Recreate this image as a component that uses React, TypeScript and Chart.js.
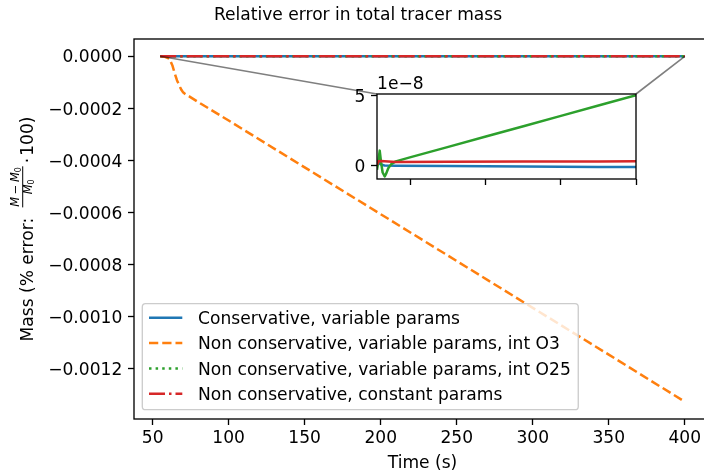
import React, { useEffect, useRef } from "react";
import { Chart, registerables } from "chart.js";

Chart.register(...registerables);

const FONT_FAMILY = '"DejaVu Sans", "Liberation Sans", sans-serif';
const FS = 17.1;

// ---------------- text ----------------
const TITLE = "Relative error in total tracer mass";
const X_LABEL = "Time (s)";
const Y_LABEL_START = "Mass (% error: ";
const Y_LABEL_END = "100)";
const SERIES_LABELS = [
  "Conservative, variable params",
  "Non conservative, variable params, int O3",
  "Non conservative, variable params, int O25",
  "Non conservative, constant params",
];
const COLORS = ["#1f77b4", "#ff7f0e", "#2ca02c", "#d62728"];
const DASHES: number[][] = [[], [9.25, 4], [2.5, 4.1], [16, 4, 2.5, 4]];

// ---------------- data ----------------
const timeBlue = [55, 57, 60, 65, 80, 150, 250, 350, 400];
const massBlue = [0.15e-8, 0.2e-8, 0.08e-8, 0.0, -0.02e-8, -0.04e-8, -0.07e-8, -0.1e-8, -0.11e-8];

const timeOrange = [55, 58, 61, 63, 64.5, 66, 68, 69, 70, 71, 72.5, 74.3, 80, 100, 150, 200, 250, 300, 350, 400];
const massOrange = [
  0, -0.000002, -0.000009, -0.000035, -0.000065, -0.000092, -0.000118, -0.00013, -0.000138, -0.000143,
  -0.000149, -0.000155, -0.000176, -0.000247, -0.000427, -0.000607, -0.000787, -0.000967, -0.001147, -0.001328,
];

const timeGreen = [55, 56.5, 58.6, 60.5, 62.5, 65.3, 67.5, 70, 74, 80, 100, 150, 200, 250, 300, 350, 400];
const massGreen = [
  -0.3e-8, 0.2e-8, 1.07e-8, 0.2e-8, -0.5e-8, -0.79e-8, -0.55e-8, -0.2e-8, 0.1e-8, 0.3e-8, 0.6e-8, 1.34e-8,
  2.08e-8, 2.82e-8, 3.57e-8, 4.31e-8, 5.05e-8,
];

const timeRed = [55, 57, 60, 80, 150, 250, 350, 400];
const massRed = [0.05e-8, 0.3e-8, 0.32e-8, 0.26e-8, 0.27e-8, 0.28e-8, 0.29e-8, 0.3e-8];

const xTickValues = [50, 100, 150, 200, 250, 300, 350, 400];
const yTickValues = [0, -0.0002, -0.0004, -0.0006, -0.0008, -0.001, -0.0012];
const insetXTickValues = [100, 200, 300, 400];
const insetYTickValues = [0, 5e-8];
const insetXRange = [55, 400];
const insetYRange = [-0.97e-8, 5.14e-8];
const INSET_OFFSET_TEXT = "1e\u22128";

// ---------------- layout ----------------
const MAIN_W = 720;
const MAIN_H = 476;
const INSET_LEFT = 340;
const INSET_TOP = 70;
const INSET_W = 320;
const INSET_H = 130;

const pts = (t: number[], v: number[]) => t.map((x, i) => ({ x, y: v[i] }));
const minus = (s: string) => s.replace("-", "\u2212");

const allTimes = [...timeBlue, ...timeOrange, ...timeGreen, ...timeRed];
const allMass = [...massBlue, ...massOrange, ...massGreen, ...massRed];
const tMin = Math.min(...allTimes);
const tMax = Math.max(...allTimes);
const mMin = Math.min(...allMass);
const mMax = Math.max(...allMass);
const xPad = 0.05 * (tMax - tMin);
const yPad = 0.05 * (mMax - mMin);

const tickGrid = {
  display: true,
  drawOnChartArea: false,
  drawTicks: true,
  tickLength: 6,
  tickWidth: 1.33,
  tickColor: "#000",
  color: "#000",
};

function drawYLabel(ctx: CanvasRenderingContext2D, bx: number, cy: number) {
  const big = `${FS}px ${FONT_FAMILY}`;
  const frac = `italic 11.5px ${FONT_FAMILY}`;
  const fracUp = `11.5px ${FONT_FAMILY}`;
  const sub = `8px ${FONT_FAMILY}`;
  ctx.save();
  ctx.translate(bx, cy);
  ctx.rotate(-Math.PI / 2);
  ctx.fillStyle = "#000";
  ctx.textBaseline = "alphabetic";
  ctx.textAlign = "left";
  ctx.font = big;
  const w1 = ctx.measureText(Y_LABEL_START).width;
  const wTail = ctx.measureText(Y_LABEL_END).width;
  ctx.font = frac;
  const wM = ctx.measureText("M").width;
  ctx.font = fracUp;
  const wMinus = ctx.measureText("\u2212").width;
  ctx.font = sub;
  const wSub = ctx.measureText("0").width;
  const gap = 2.5;
  const numW = wM + gap + wMinus + gap + wM + wSub;
  const denW = wM + wSub;
  const barLen = numW + 1.5;
  const fracStart = w1 + 5;
  const barEnd = fracStart + barLen;
  const total = barEnd + 10.5 + wTail;
  const u0 = -total / 2;

  ctx.font = big;
  ctx.fillText(Y_LABEL_START, u0, 0);
  // numerator
  let u = u0 + fracStart + (barLen - numW) / 2;
  const vNum = -14.2;
  ctx.font = frac;
  ctx.fillText("M", u, vNum);
  u += wM + gap;
  ctx.font = fracUp;
  ctx.fillText("\u2212", u, vNum);
  u += wMinus + gap;
  ctx.font = frac;
  ctx.fillText("M", u, vNum);
  u += wM;
  ctx.font = sub;
  ctx.fillText("0", u, vNum + 2);
  // bar
  ctx.fillRect(u0 + fracStart, -10.8, barLen, 1);
  // denominator
  u = u0 + fracStart + (barLen - denW) / 2;
  const vDen = -1.2;
  ctx.font = frac;
  ctx.fillText("M", u, vDen);
  u += wM;
  ctx.font = sub;
  ctx.fillText("0", u, vDen + 2);
  // cdot and tail
  ctx.font = big;
  ctx.textAlign = "center";
  ctx.fillText("\u00b7", u0 + barEnd + 5.7, 0);
  ctx.textAlign = "left";
  ctx.fillText(Y_LABEL_END, u0 + barEnd + 10.5, 0);
  ctx.restore();
}

function drawLegend(ctx: CanvasRenderingContext2D, area: any) {
  ctx.save();
  ctx.font = `${FS}px ${FONT_FAMILY}`;
  const maxW = Math.max(...SERIES_LABELS.map((l) => ctx.measureText(l).width));
  const left = area.left + 8.3;
  const bottom = area.bottom - 9.3;
  const height = 106;
  const top = bottom - height;
  const width = 55.7 + maxW + 7.5;
  const r = 3.3;
  ctx.beginPath();
  ctx.moveTo(left + r, top);
  ctx.lineTo(left + width - r, top);
  ctx.arcTo(left + width, top, left + width, top + r, r);
  ctx.lineTo(left + width, bottom - r);
  ctx.arcTo(left + width, bottom, left + width - r, bottom, r);
  ctx.lineTo(left + r, bottom);
  ctx.arcTo(left, bottom, left, bottom - r, r);
  ctx.lineTo(left, top + r);
  ctx.arcTo(left, top, left + r, top, r);
  ctx.closePath();
  ctx.fillStyle = "rgba(255,255,255,0.8)";
  ctx.fill();
  ctx.strokeStyle = "#cccccc";
  ctx.lineWidth = 1.33;
  ctx.stroke();

  SERIES_LABELS.forEach((label, i) => {
    const base = top + 20.3 + i * 25.3;
    const hy = base - 6.2;
    ctx.beginPath();
    ctx.setLineDash(DASHES[i]);
    ctx.lineCap = "butt";
    ctx.strokeStyle = COLORS[i];
    ctx.lineWidth = 2.5;
    ctx.moveTo(left + 6.7, hy);
    ctx.lineTo(left + 40, hy);
    ctx.stroke();
    ctx.setLineDash([]);
    ctx.fillStyle = "#000";
    ctx.textAlign = "left";
    ctx.textBaseline = "alphabetic";
    ctx.fillText(label, left + 55.7, base);
  });
  ctx.restore();
}

export default function App() {
  const mainRef = useRef<HTMLCanvasElement>(null);
  const insetRef = useRef<HTMLCanvasElement>(null);

  useEffect(() => {
    const insetPlugin = {
      id: "insetDecor",
      beforeDraw(chart: any) {
        const { ctx, chartArea: a } = chart;
        ctx.save();
        ctx.fillStyle = "#fff";
        ctx.fillRect(a.left, a.top, a.right - a.left, a.bottom - a.top);
        ctx.restore();
      },
      afterDraw(chart: any) {
        const { ctx, chartArea: a } = chart;
        const ys = chart.scales.y;
        ctx.save();
        ctx.strokeStyle = "#000";
        ctx.lineWidth = 1.33;
        ctx.strokeRect(a.left, a.top, a.right - a.left, a.bottom - a.top);
        ctx.fillStyle = "#000";
        ctx.font = `${FS}px ${FONT_FAMILY}`;
        ctx.textAlign = "right";
        ctx.textBaseline = "alphabetic";
        insetYTickValues.forEach((v) => {
          const py = ys.getPixelForValue(v);
          ctx.fillText(String(Math.round(v / 1e-8)), a.left - 11.7, py + 6.2);
        });
        ctx.textAlign = "left";
        ctx.fillText(INSET_OFFSET_TEXT, a.left, a.top - 4.8);
        ctx.restore();
      },
    };

    const insetOrder = [0, 2, 3];
    const insetSeries = [
      pts(timeBlue, massBlue),
      pts(timeOrange, massOrange),
      pts(timeGreen, massGreen),
      pts(timeRed, massRed),
    ];

    const inset = new Chart(insetRef.current!, {
      type: "line",
      data: {
        datasets: insetOrder.map((i, k) => ({
          label: SERIES_LABELS[i],
          data: insetSeries[i],
          borderColor: COLORS[i],
          borderWidth: 2.5,
          order: insetOrder.length - k,
        })),
      },
      options: {
        animation: false,
        responsive: false,
        devicePixelRatio: 1,
        events: [],
        elements: {
          point: { radius: 0 },
          line: { tension: 0, borderCapStyle: "butt", borderJoinStyle: "round", fill: false },
        },
        layout: { padding: { left: 0, right: 24, top: 24, bottom: 0 } },
        plugins: { legend: { display: false }, tooltip: { enabled: false }, title: { display: false } },
        scales: {
          x: {
            type: "linear",
            min: insetXRange[0],
            max: insetXRange[1],
            afterBuildTicks: (s: any) => {
              s.ticks = insetXTickValues.map((v) => ({ value: v }));
            },
            afterFit: (s: any) => {
              s.height = 21;
            },
            ticks: { display: false },
            grid: tickGrid,
            border: { display: false },
          },
          y: {
            type: "linear",
            min: insetYRange[0],
            max: insetYRange[1],
            afterBuildTicks: (s: any) => {
              s.ticks = insetYTickValues.map((v) => ({ value: v }));
            },
            afterFit: (s: any) => {
              s.width = 37;
            },
            ticks: { display: false },
            grid: tickGrid,
            border: { display: false },
          },
        },
      } as any,
      plugins: [insetPlugin],
    });

    const mainPlugin = {
      id: "mainDecor",
      afterDraw(chart: any) {
        const { ctx, chartArea: a } = chart;
        const xs = chart.scales.x;
        const ys = chart.scales.y;
        ctx.save();
        // spines
        ctx.strokeStyle = "#000";
        ctx.lineWidth = 1.33;
        ctx.strokeRect(a.left, a.top, a.right - a.left, a.bottom - a.top);

        // inset connectors
        const ia = inset.chartArea;
        ctx.strokeStyle = "rgba(0,0,0,0.5)";
        ctx.lineWidth = 1.6;
        const x0 = xs.getPixelForValue(insetXRange[0]);
        const x1 = xs.getPixelForValue(insetXRange[1]);
        const y0 = ys.getPixelForValue(insetYRange[1]);
        ctx.beginPath();
        ctx.moveTo(x0, y0);
        ctx.lineTo(INSET_LEFT + ia.left, INSET_TOP + ia.top);
        ctx.moveTo(x1, y0);
        ctx.lineTo(INSET_LEFT + ia.right, INSET_TOP + ia.top);
        ctx.stroke();

        // legend
        drawLegend(ctx, a);

        // tick labels
        ctx.fillStyle = "#000";
        ctx.font = `${FS}px ${FONT_FAMILY}`;
        ctx.textBaseline = "alphabetic";
        ctx.textAlign = "center";
        xTickValues.forEach((v) => {
          ctx.fillText(String(v), xs.getPixelForValue(v), a.bottom + 24.3);
        });
        ctx.textAlign = "right";
        yTickValues.forEach((v) => {
          ctx.fillText(minus(v.toFixed(4)), a.left - 11.7, ys.getPixelForValue(v) + 6.2);
        });

        // axis labels and title
        ctx.textAlign = "center";
        ctx.fillText(X_LABEL, (a.left + a.right) / 2, 467.5);
        ctx.fillText(TITLE, 358, 19.5);
        drawYLabel(ctx, 33, (a.top + a.bottom) / 2);
        ctx.restore();
      },
    };

    const mainSeries = [
      pts(timeBlue, massBlue),
      pts(timeOrange, massOrange),
      pts(timeGreen, massGreen),
      pts(timeRed, massRed),
    ];

    const main = new Chart(mainRef.current!, {
      type: "line",
      data: {
        datasets: mainSeries.map((d, i) => ({
          label: SERIES_LABELS[i],
          data: d,
          borderColor: COLORS[i],
          borderWidth: 2.5,
          borderDash: DASHES[i],
          order: mainSeries.length - 1 - i,
        })),
      },
      options: {
        animation: false,
        responsive: false,
        devicePixelRatio: 1,
        events: [],
        elements: {
          point: { radius: 0 },
          line: { tension: 0, borderCapStyle: "butt", borderJoinStyle: "round", fill: false },
        },
        layout: { padding: { left: 0, right: 9, top: 39, bottom: 0 } },
        plugins: { legend: { display: false }, tooltip: { enabled: false }, title: { display: false } },
        scales: {
          x: {
            type: "linear",
            min: tMin - xPad,
            max: tMax + xPad,
            afterBuildTicks: (s: any) => {
              s.ticks = xTickValues.map((v) => ({ value: v }));
            },
            afterFit: (s: any) => {
              s.height = 57;
            },
            ticks: { display: false },
            grid: tickGrid,
            border: { display: false },
          },
          y: {
            type: "linear",
            min: mMin - yPad,
            max: mMax + yPad,
            afterBuildTicks: (s: any) => {
              s.ticks = yTickValues.map((v) => ({ value: v }));
            },
            afterFit: (s: any) => {
              s.width = 134;
            },
            ticks: { display: false },
            grid: tickGrid,
            border: { display: false },
          },
        },
      } as any,
      plugins: [mainPlugin],
    });

    return () => {
      main.destroy();
      inset.destroy();
    };
  }, []);

  return (
    <div
      style={{
        position: "fixed",
        left: 0,
        top: 0,
        width: 704,
        height: 476,
        overflow: "hidden",
        background: "#fff",
      }}
    >
      <canvas
        ref={mainRef}
        width={MAIN_W}
        height={MAIN_H}
        style={{ position: "absolute", left: 0, top: 0, width: MAIN_W, height: MAIN_H }}
      />
      <canvas
        ref={insetRef}
        width={INSET_W}
        height={INSET_H}
        style={{ position: "absolute", left: INSET_LEFT, top: INSET_TOP, width: INSET_W, height: INSET_H }}
      />
    </div>
  );
}
